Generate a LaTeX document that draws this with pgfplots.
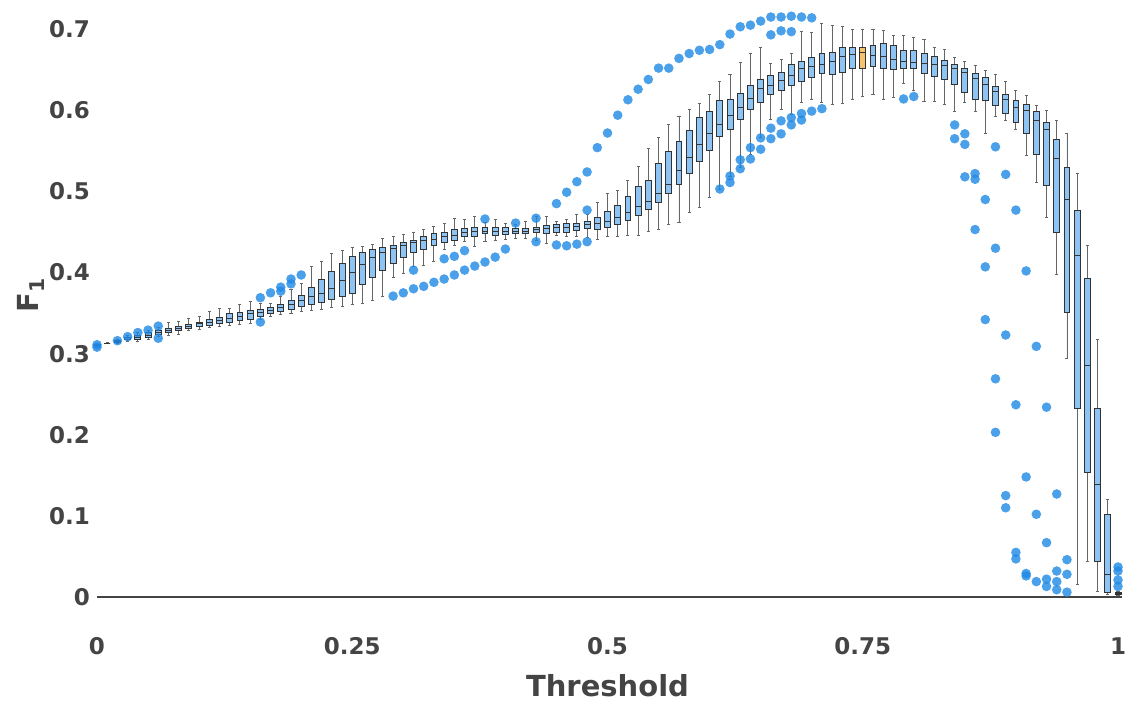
\documentclass[border=0pt]{standalone}
\usepackage{fontspec}
\setmainfont{DejaVu Sans}
\usepackage{pgfplots}
\usepackage{pgfplotstable}
\pgfplotsset{compat=1.18}
\usepgfplotslibrary{statistics}
\definecolor{txt}{HTML}{444444}
\definecolor{dotblue}{RGB}{30,136,229}
\definecolor{boxblue}{RGB}{142,196,243}
\definecolor{boxorange}{RGB}{246,194,112}

\pgfplotstableread{
k lw q1 med q3 uw
0 0.309 0.310 0.310 0.311 0.311
1 0.312 0.313 0.313 0.313 0.314
2 0.313 0.314 0.315 0.316 0.317
3 0.315 0.317 0.318 0.320 0.322
4 0.315 0.317 0.320 0.323 0.326
5 0.317 0.320 0.323 0.326 0.329
6 0.321 0.324 0.326 0.328 0.332
7 0.322 0.326 0.329 0.331 0.339
8 0.324 0.328 0.331 0.333 0.340
9 0.328 0.331 0.334 0.336 0.344
10 0.330 0.333 0.337 0.339 0.346
11 0.332 0.335 0.339 0.342 0.352
12 0.333 0.337 0.341 0.345 0.356
13 0.335 0.338 0.344 0.349 0.356
14 0.336 0.341 0.346 0.351 0.361
15 0.337 0.342 0.349 0.353 0.364
16 0.342 0.346 0.351 0.355 0.362
17 0.346 0.349 0.353 0.357 0.362
18 0.348 0.352 0.357 0.361 0.370
19 0.350 0.355 0.361 0.365 0.379
20 0.352 0.358 0.365 0.372 0.387
21 0.353 0.361 0.370 0.382 0.407
22 0.355 0.363 0.374 0.391 0.414
23 0.357 0.367 0.381 0.401 0.423
24 0.358 0.370 0.390 0.411 0.427
25 0.361 0.374 0.400 0.420 0.431
26 0.362 0.385 0.410 0.425 0.432
27 0.365 0.394 0.418 0.429 0.435
28 0.370 0.403 0.425 0.431 0.442
29 0.394 0.411 0.430 0.433 0.444
30 0.399 0.418 0.434 0.437 0.447
31 0.407 0.425 0.437 0.439 0.450
32 0.409 0.428 0.439 0.444 0.453
33 0.414 0.433 0.441 0.448 0.457
34 0.429 0.437 0.444 0.450 0.460
35 0.433 0.440 0.446 0.453 0.467
36 0.438 0.444 0.449 0.454 0.465
37 0.432 0.445 0.451 0.455 0.469
38 0.438 0.448 0.451 0.455 0.462
39 0.440 0.446 0.451 0.455 0.465
40 0.441 0.447 0.451 0.455 0.461
41 0.442 0.448 0.451 0.454 0.459
42 0.442 0.448 0.451 0.454 0.463
43 0.440 0.449 0.453 0.456 0.469
44 0.436 0.448 0.454 0.458 0.469
45 0.446 0.450 0.455 0.459 0.463
46 0.444 0.450 0.455 0.460 0.465
47 0.444 0.452 0.457 0.461 0.472
48 0.443 0.454 0.459 0.463 0.472
49 0.441 0.453 0.461 0.468 0.486
50 0.444 0.455 0.463 0.475 0.498
51 0.444 0.459 0.468 0.483 0.501
52 0.446 0.464 0.474 0.494 0.513
53 0.446 0.470 0.482 0.506 0.531
54 0.451 0.478 0.488 0.514 0.553
55 0.453 0.486 0.498 0.534 0.566
56 0.459 0.497 0.509 0.549 0.583
57 0.462 0.508 0.526 0.561 0.593
58 0.474 0.522 0.542 0.575 0.601
59 0.480 0.537 0.558 0.591 0.608
60 0.492 0.551 0.571 0.599 0.619
61 0.503 0.568 0.583 0.612 0.635
62 0.519 0.577 0.594 0.614 0.644
63 0.530 0.589 0.604 0.621 0.659
64 0.545 0.601 0.615 0.631 0.670
65 0.566 0.610 0.627 0.638 0.678
66 0.589 0.619 0.631 0.643 0.658
67 0.601 0.625 0.637 0.647 0.663
68 0.595 0.631 0.643 0.656 0.670
69 0.610 0.635 0.651 0.660 0.697
70 0.614 0.641 0.654 0.665 0.696
71 0.610 0.645 0.657 0.670 0.707
72 0.607 0.644 0.660 0.671 0.705
73 0.609 0.647 0.666 0.677 0.703
74 0.614 0.651 0.669 0.678 0.700
75 0.617 0.651 0.671 0.677 0.700
76 0.619 0.654 0.668 0.680 0.700
77 0.614 0.652 0.666 0.682 0.698
78 0.616 0.650 0.663 0.680 0.692
79 0.633 0.651 0.660 0.674 0.692
80 0.625 0.652 0.659 0.674 0.690
81 0.611 0.646 0.658 0.670 0.687
82 0.611 0.642 0.657 0.667 0.677
83 0.607 0.638 0.655 0.661 0.675
84 0.598 0.632 0.651 0.657 0.665
85 0.610 0.622 0.647 0.651 0.660
86 0.599 0.614 0.639 0.646 0.655
87 0.571 0.612 0.632 0.641 0.649
88 0.592 0.606 0.623 0.630 0.644
89 0.588 0.596 0.613 0.620 0.636
90 0.577 0.585 0.604 0.612 0.625
91 0.544 0.571 0.600 0.607 0.618
92 0.511 0.546 0.588 0.598 0.606
93 0.468 0.507 0.576 0.585 0.600
94 0.398 0.450 0.541 0.564 0.587
95 0.294 0.351 0.490 0.529 0.571
96 0.016 0.233 0.421 0.477 0.522
97 0.044 0.153 0.285 0.393 0.433
98 0.007 0.044 0.139 0.233 0.318
99 0.003 0.006 0.028 0.102 0.120
100 0.002 0.003 0.004 0.006 0.007
}\boxdata

\pgfplotstableread{
x y
0 0.311
0 0.308
0.02 0.316
0.03 0.321
0.04 0.326
0.05 0.329
0.06 0.334
0.06 0.319
0.16 0.369
0.16 0.339
0.17 0.375
0.18 0.382
0.18 0.377
0.19 0.392
0.19 0.386
0.20 0.397
0.29 0.371
0.30 0.375
0.31 0.380
0.31 0.403
0.32 0.383
0.33 0.388
0.34 0.392
0.34 0.417
0.35 0.397
0.35 0.420
0.36 0.403
0.36 0.427
0.37 0.408
0.38 0.413
0.38 0.466
0.39 0.419
0.40 0.429
0.41 0.461
0.43 0.467
0.43 0.438
0.45 0.485
0.45 0.434
0.46 0.499
0.46 0.433
0.47 0.512
0.47 0.435
0.48 0.524
0.48 0.477
0.48 0.438
0.49 0.554
0.50 0.572
0.51 0.594
0.52 0.613
0.53 0.626
0.54 0.638
0.55 0.652
0.56 0.652
0.57 0.664
0.58 0.670
0.59 0.674
0.60 0.675
0.61 0.681
0.62 0.694
0.63 0.703
0.64 0.705
0.65 0.710
0.66 0.715
0.67 0.715
0.68 0.716
0.69 0.715
0.70 0.714
0.66 0.693
0.67 0.698
0.68 0.697
0.61 0.503
0.62 0.519
0.62 0.511
0.63 0.539
0.63 0.528
0.64 0.554
0.64 0.540
0.65 0.566
0.65 0.552
0.66 0.578
0.66 0.565
0.67 0.587
0.67 0.571
0.68 0.591
0.68 0.582
0.69 0.596
0.69 0.588
0.70 0.599
0.71 0.602
0.79 0.614
0.80 0.617
0.84 0.582
0.84 0.565
0.85 0.571
0.85 0.558
0.85 0.518
0.86 0.522
0.86 0.515
0.86 0.453
0.87 0.490
0.87 0.407
0.87 0.342
0.88 0.555
0.88 0.430
0.88 0.269
0.88 0.203
0.89 0.521
0.89 0.323
0.89 0.125
0.89 0.110
0.90 0.477
0.90 0.237
0.90 0.055
0.90 0.047
0.91 0.402
0.91 0.148
0.91 0.029
0.91 0.026
0.92 0.309
0.92 0.102
0.92 0.019
0.93 0.234
0.93 0.067
0.93 0.022
0.93 0.013
0.94 0.127
0.94 0.032
0.94 0.019
0.94 0.009
0.95 0.046
0.95 0.028
0.95 0.006
1.00 0.037
1.00 0.032
1.00 0.021
1.00 0.013
}\outliers

\pgfplotsset{
  bstyle/.style={
    boxplot/draw direction=y,
    boxplot/box extend=0.0058,
    boxplot/whisker extend=0.003,
    boxplot/every whisker/.style={draw=black!60},
    draw=black!80, line width=0.9pt},
}

\begin{document}
\begin{tikzpicture}
\path[use as bounding box] (0,0) rectangle (1131pt,702pt);
\begin{axis}[
  at={(97pt,105pt)}, anchor=south west,
  scale only axis, width=1021pt, height=597pt,
  xmin=0, xmax=1, ymin=0, ymax=0.736,
  clip=false,
  axis line style={draw=none},
  tick style={draw=none},
  xtick={0,0.25,0.5,0.75,1},
  xticklabels={0,0.25,0.5,0.75,1},
  ytick={0,0.1,0.2,0.3,0.4,0.5,0.6,0.7},
  yticklabels={0,0.1,0.2,0.3,0.4,0.5,0.6,0.7},
  ticklabel style={font=\fontsize{23}{27}\selectfont\bfseries, text=txt},
  xticklabel style={anchor=center, inner sep=0pt, yshift=-49pt},
  yticklabel style={anchor=east, inner sep=0pt, xshift=-7pt},
  xlabel={Threshold},
  xlabel style={at={(rel axis cs:0.5,0)}, anchor=center, yshift=-89pt,
    font=\fontsize{29}{33}\selectfont\bfseries, text=txt},
  ylabel={F\textsubscript{1}},
  ylabel style={at={(rel axis cs:0,0.505)}, anchor=center, yshift=66pt,
    font=\fontsize{29}{33}\selectfont\bfseries, text=txt},
]
\draw[txt, line width=1.3pt] (axis cs:0,0) -- (axis cs:1.004,0);
\pgfplotsinvokeforeach{0,...,100}{
  \pgfplotstablegetelem{#1}{lw}\of\boxdata \edef\vlw{\pgfplotsretval}
  \pgfplotstablegetelem{#1}{q1}\of\boxdata \edef\vqa{\pgfplotsretval}
  \pgfplotstablegetelem{#1}{med}\of\boxdata \edef\vmed{\pgfplotsretval}
  \pgfplotstablegetelem{#1}{q3}\of\boxdata \edef\vqb{\pgfplotsretval}
  \pgfplotstablegetelem{#1}{uw}\of\boxdata \edef\vuw{\pgfplotsretval}
  \def\bfill{boxblue}
  \ifnum#1=75 \def\bfill{boxorange}\fi
  \edef\tmp{\noexpand\addplot[bstyle, fill=\bfill,
    boxplot prepared={draw position=#1/100, lower whisker=\vlw,
      lower quartile=\vqa, median=\vmed, upper quartile=\vqb,
      upper whisker=\vuw}] coordinates {};}
  \tmp
}
\addplot[only marks, mark=*, mark size=4.8pt, color=dotblue,
  mark options={fill=dotblue, fill opacity=0.8, draw opacity=0}] table {\outliers};
\end{axis}
\end{tikzpicture}
\end{document}
